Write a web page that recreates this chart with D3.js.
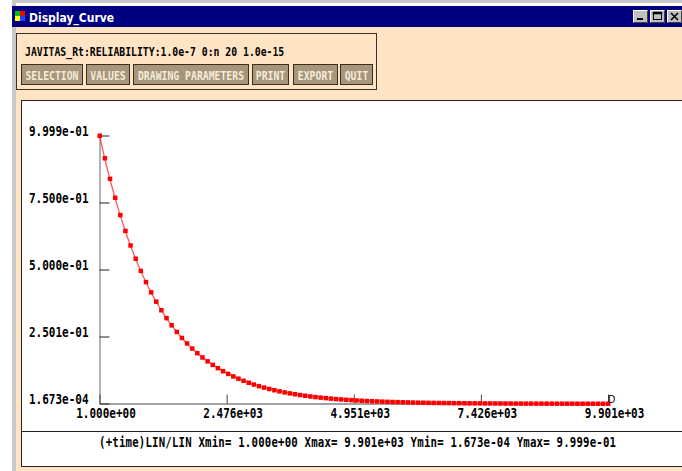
<!DOCTYPE html>
<html>
<head>
<meta charset="utf-8">
<script src="https://cdn.jsdelivr.net/npm/d3@7"></script>
<style>
  body { margin: 0; background: #ffffff; overflow: hidden; }
  svg { display: block; }
</style>
</head>
<body>
<div id="chart"></div>
<script>
// ### DATA ###
var windowTitle = "Display_Curve";
var curveLabel = "JAVITAS_Rt:RELIABILITY:1.0e-7 0:n 20 1.0e-15";
var buttonLabels = ["SELECTION", "VALUES", "DRAWING PARAMETERS", "PRINT", "EXPORT", "QUIT"];
var statusText = "(+time)LIN/LIN Xmin= 1.000e+00 Xmax= 9.901e+03 Ymin= 1.673e-04 Ymax= 9.999e-01";
var curveTag = "D";

var xMin = 1, xMax = 9901;
var yMin = 1.673e-4, yMax = 0.9999;
var xTicks = [1, 2476, 4951, 7426, 9901];
var xTickLabels = ["1.000e+00", "2.476e+03", "4.951e+03", "7.426e+03", "9.901e+03"];
var yTicks = [0.9999, 0.75, 0.5, 0.2501, 1.673e-4];
var yTickLabels = ["9.999e-01", "7.500e-01", "5.000e-01", "2.501e-01", "1.673e-04"];

// time of each point
var times = [
  1, 101, 201, 301, 401, 501, 601, 701, 801, 901,
  1001, 1101, 1201, 1301, 1401, 1501, 1601, 1701, 1801, 1901,
  2001, 2101, 2201, 2301, 2401, 2501, 2601, 2701, 2801, 2901,
  3001, 3101, 3201, 3301, 3401, 3501, 3601, 3701, 3801, 3901,
  4001, 4101, 4201, 4301, 4401, 4501, 4601, 4701, 4801, 4901,
  5001, 5101, 5201, 5301, 5401, 5501, 5601, 5701, 5801, 5901,
  6001, 6101, 6201, 6301, 6401, 6501, 6601, 6701, 6801, 6901,
  7001, 7101, 7201, 7301, 7401, 7501, 7601, 7701, 7801, 7901,
  8001, 8101, 8201, 8301, 8401, 8501, 8601, 8701, 8801, 8901,
  9001, 9101, 9201, 9301, 9401, 9501, 9601, 9701, 9801, 9901
];
// reliability
var reliability = [
  0.9999, 0.9159, 0.8390, 0.7685, 0.7039, 0.6448, 0.5906, 0.5410, 0.4956, 0.4540,
  0.4158, 0.3809, 0.3489, 0.3196, 0.2928, 0.2682, 0.2456, 0.2250, 0.2061, 0.1888,
  0.1729, 0.1584, 0.1451, 0.1329, 0.1217, 0.1115, 0.1022, 0.0936, 0.0857, 0.0785,
  0.0719, 0.0659, 0.0603, 0.0553, 0.0506, 0.0464, 0.0425, 0.0389, 0.0356, 0.0326,
  0.0299, 0.0274, 0.0251, 0.0230, 0.0211, 0.0193, 0.0177, 0.0162, 0.0148, 0.0136,
  0.0124, 0.0114, 0.0104, 0.0096, 0.0088, 0.0080, 0.0073, 0.0067, 0.0062, 0.0056,
  0.0052, 0.0047, 0.0043, 0.0040, 0.0036, 0.0033, 0.0031, 0.0028, 0.0026, 0.0023,
  0.0022, 0.0020, 0.0018, 0.0017, 0.0015, 0.0014, 0.0013, 0.0012, 0.0011, 0.0010,
  0.0009, 0.0008, 0.00075, 0.0007, 0.0006, 0.00058, 0.00053, 0.00049, 0.00045, 0.00041,
  0.00037, 0.00034, 0.00031, 0.00029, 0.00026, 0.00024, 0.00022, 0.0002, 0.00018, 0.000167
];

// ### LOOK ###
var width = 682, height = 471;
var peach = "#ffe4c4";
var tan = "#a8967a";
var monoFont = "'DejaVu Sans Mono', 'Liberation Mono', monospace";
var boldFont = "'Liberation Sans', 'DejaVu Sans', sans-serif";

var svg = d3.select("#chart").append("svg")
  .attr("width", width)
  .attr("height", height);

// tall condensed bitmap-like text: mono font stretched vertically
function tallText(parent, tx, ty, str, size, fill, anchor) {
  return parent.append("text")
    .attr("transform", "translate(" + tx + "," + ty + ") scale(1,1.25)")
    .attr("text-anchor", anchor || "start")
    .attr("fill", fill)
    .style("font-family", monoFont).style("font-weight", "bold").style("font-size", size + "px")
    .text(str);
}

// window frame
svg.append("rect").attr("x", 0).attr("y", 0).attr("width", width).attr("height", height).attr("fill", "#ffffff");
svg.append("rect").attr("x", 12).attr("y", 0).attr("width", width - 12).attr("height", 3).attr("fill", "#c8c8c8");
svg.append("rect").attr("x", 12).attr("y", 0).attr("width", 4).attr("height", height).attr("fill", "#c8c8c8");
svg.append("rect").attr("x", 16).attr("y", 27).attr("width", width - 16).attr("height", height - 27).attr("fill", peach);

// title bar
svg.append("rect").attr("x", 12).attr("y", 6).attr("width", width - 12).attr("height", 21).attr("fill", "#000080");
var iconColors = ["#00c000", "#ff0000", "#ffff00", "#2040ff"];
iconColors.forEach(function (c, i) {
  svg.append("rect")
    .attr("x", 15 + (i % 2) * 5).attr("y", 11 + Math.floor(i / 2) * 5)
    .attr("width", 5).attr("height", 5).attr("fill", c);
});
svg.append("text")
  .attr("x", 29).attr("y", 22)
  .attr("fill", "#ffffff")
  .style("font-family", "'DejaVu Sans Condensed', 'DejaVu Sans', sans-serif")
  .style("font-weight", "bold").style("font-size", "12px")
  .text(windowTitle);

// min / max / close buttons
[633, 650, 667].forEach(function (bx, i) {
  var b = svg.append("g").attr("transform", "translate(" + bx + ",10)");
  b.append("rect").attr("width", 15).attr("height", 13).attr("fill", "#c0c0c0");
  b.append("path").attr("d", "M0.5,12.5V0.5H14.5").attr("stroke", "#ffffff").attr("fill", "none");
  b.append("path").attr("d", "M0.5,12.5H14.5V0.5").attr("stroke", "#404040").attr("fill", "none");
  if (i === 0) b.append("rect").attr("x", 4).attr("y", 8).attr("width", 6).attr("height", 2).attr("fill", "#000");
  if (i === 1) b.append("rect").attr("x", 3.5).attr("y", 2.5).attr("width", 8).attr("height", 7)
    .attr("fill", "none").attr("stroke", "#000").attr("stroke-width", 1)
    .clone().attr("height", 1).attr("stroke-width", 1.5);
  if (i === 2) b.append("path").attr("d", "M4,3L11,10M11,3L4,10").attr("stroke", "#000").attr("stroke-width", 1.6);
});

// top panel with label and buttons
svg.append("rect").attr("x", 16.5).attr("y", 33.5).attr("width", 360).attr("height", 56)
  .attr("fill", "none").attr("stroke", "#333").attr("stroke-width", 1);
tallText(svg, 25, 56, curveLabel, 9.8, "#000");

var buttonX = [21, 86, 133, 252, 293, 340];
var buttonW = [61, 43, 115, 36, 44, 32];
buttonLabels.forEach(function (lab, i) {
  var g = svg.append("g").attr("transform", "translate(" + buttonX[i] + ",64)");
  g.append("rect").attr("x", 0.5).attr("y", 0.5).attr("width", buttonW[i]).attr("height", 20)
    .attr("fill", tan).attr("stroke", "#3a2e20").attr("stroke-width", 1);
  tallText(g, buttonW[i] / 2 + 0.5, 16, lab, 9.8, "#f4ecdc", "middle");
});

// plot panel
svg.append("rect").attr("x", 21.5).attr("y", 100.5).attr("width", 700).attr("height", 366)
  .attr("fill", "#ffffff").attr("stroke", "#222").attr("stroke-width", 1);
svg.append("line").attr("x1", 21.5).attr("x2", width).attr("y1", 431.5).attr("y2", 431.5)
  .attr("stroke", "#222");

// scales
var x = d3.scaleLinear().domain([xMin, xMax]).range([99.5, 608]);
var y = d3.scaleLinear().domain([yMin, yMax]).range([403.5, 135.5]);

var yAxis = d3.axisLeft(y)
  .tickValues(yTicks)
  .tickFormat(function (d, i) { return yTickLabels[i]; })
  .tickSizeInner(-10).tickSizeOuter(0).tickPadding(11);
var gy = svg.append("g").attr("transform", "translate(99.5,0)").call(yAxis);
gy.select(".domain").attr("stroke", "#666");
gy.selectAll(".tick line").attr("stroke", "#222");
gy.selectAll(".tick text")
  .attr("dy", null).attr("y", 0)
  .attr("transform", "scale(1,1.25)")
  .attr("fill", "#000")
  .style("font-family", monoFont).style("font-weight", "bold").style("font-size", "11px");

var xAxis = d3.axisBottom(x)
  .tickValues(xTicks)
  .tickFormat(function (d, i) { return xTickLabels[i]; })
  .tickSizeInner(-9).tickSizeOuter(0).tickPadding(0);
var gx = svg.append("g").attr("transform", "translate(0,403.5)").call(xAxis);
gx.select(".domain").attr("stroke", "#444");
gx.selectAll(".tick line").attr("stroke", "#444");
gx.selectAll(".tick text")
  .attr("dy", null).attr("y", 0).attr("x", 6)
  .attr("transform", "translate(0,14) scale(1,1.25)")
  .attr("fill", "#000")
  .style("font-family", monoFont).style("font-weight", "bold").style("font-size", "11px");

// curve
var pts = times.map(function (t, i) { return [t, reliability[i]]; });
var line = d3.line().x(function (d) { return x(d[0]); }).y(function (d) { return y(d[1]); });
svg.append("path").datum(pts)
  .attr("d", line)
  .attr("fill", "none")
  .attr("stroke", "#ff2020")
  .attr("stroke-opacity", 0.75)
  .attr("stroke-width", 1.3);
svg.selectAll("rect.pt").data(pts).enter().append("rect")
  .attr("class", "pt")
  .attr("x", function (d) { return x(d[0]) - 2; })
  .attr("y", function (d) { return y(d[1]) - 2; })
  .attr("width", 4.5).attr("height", 4.5)
  .attr("fill", "#ff0000");

svg.append("text")
  .attr("x", x(xMax)).attr("y", 403)
  .attr("fill", "#000")
  .style("font-family", boldFont).style("font-size", "10px")
  .text(curveTag);

// status line
tallText(svg, 99, 447, statusText, 10.7, "#000")
  .attr("textLength", 517).attr("lengthAdjust", "spacing");
</script>
</body>
</html>
